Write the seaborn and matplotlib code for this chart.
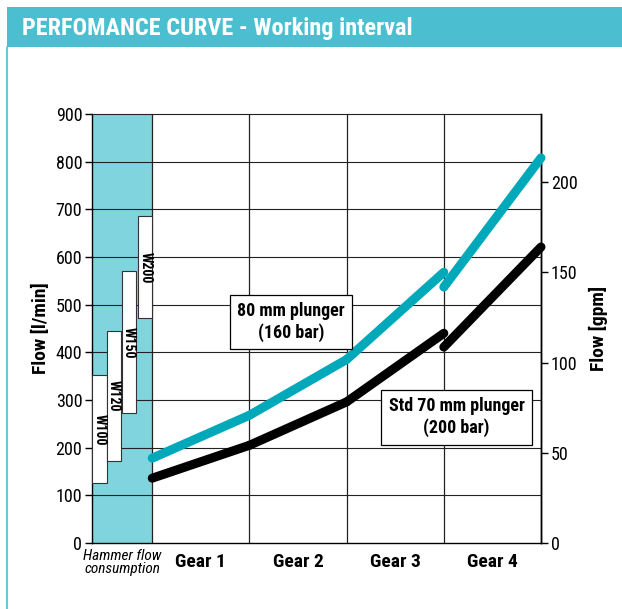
import seaborn as sns
import matplotlib.pyplot as plt
import pandas as pd
from matplotlib.patches import Rectangle
from matplotlib.lines import Line2D

# ---- data ----
gear_labels = ["Gear 1", "Gear 2", "Gear 3", "Gear 4"]
gear_edges = [0, 1, 2, 3, 4]

# flow [l/min] at start / end of each gear
plunger80_start = [178, 268, 385, 537]
plunger80_end = [268, 385, 568, 808]
std70_start = [136, 205, 296, 411]
std70_end = [205, 296, 440, 621]

hammer_names = ["W100", "W120", "W150", "W200"]
hammer_low = [125, 173, 272, 472]
hammer_high = [352, 445, 570, 685]

LPM_PER_GPM = 3.785
CYAN = "#00a9b9"
HAMMER_BG = "#7fd4de"
BAND = "#4bbfd0"
FONT = ["Roboto Condensed", "DejaVu Sans"]

rows = []
for name, starts, ends in [("80 mm plunger (160 bar)", plunger80_start, plunger80_end),
                           ("Std 70 mm plunger (200 bar)", std70_start, std70_end)]:
    for g in range(4):
        rows.append(dict(series=name, seg=f"{name}-{g}", x=gear_edges[g], flow=starts[g]))
        rows.append(dict(series=name, seg=f"{name}-{g}", x=gear_edges[g + 1], flow=ends[g]))
df = pd.DataFrame(rows)

sns.set_style("white")
plt.rcParams['font.family'] = FONT
plt.rcParams['text.color'] = "black"
plt.rcParams['axes.labelcolor'] = "black"
plt.rcParams['xtick.color'] = "black"
plt.rcParams['ytick.color'] = "black"

fig = plt.figure(figsize=(6.22, 6.09), dpi=100)
ax = fig.add_axes([92 / 622, 1 - 543 / 609, 449 / 622, 429 / 609])

# header band and left border
fig.patches.append(Rectangle((7 / 622, 1 - 47 / 609), 1, 40 / 609, transform=fig.transFigure,
                             facecolor=BAND, edgecolor="none", zorder=0))
fig.lines.append(Line2D([7.5 / 622, 7.5 / 622], [0, 1 - 47 / 609], transform=fig.transFigure,
                        color=BAND, lw=1.2))
fig.text(22 / 622, 1 - 28 / 609, "PERFOMANCE CURVE - Working interval", color="white",
         fontsize=17.5, fontweight="bold", va="center", ha="left")

xmin = -0.62
ax.set_xlim(xmin, 4)
ax.set_ylim(0, 900)

# hammer consumption region
ax.axvspan(xmin, 0, color=HAMMER_BG, zorder=0, lw=0)
bar_left = [-0.615, -0.465, -0.31, -0.145]
bar_w = 0.145
for i, nm in enumerate(hammer_names):
    ax.bar(bar_left[i], hammer_high[i] - hammer_low[i], bottom=hammer_low[i], width=bar_w,
           align="edge", color="white", edgecolor="#333333", lw=0.8, zorder=3)
    ax.text(bar_left[i] + bar_w / 2, (hammer_low[i] + hammer_high[i]) / 2, nm, rotation=-90,
            ha="center", va="center", fontsize=10, fontweight="bold", zorder=4)

# grid
for yv in range(100, 901, 100):
    ax.axhline(yv, color="#222222", lw=0.8, zorder=1)
for xv in gear_edges:
    ax.axvline(xv, color="#222222", lw=0.9, zorder=1)

sns.lineplot(data=df, x="x", y="flow", hue="series", units="seg", estimator=None,
             palette={"80 mm plunger (160 bar)": CYAN, "Std 70 mm plunger (200 bar)": "black"},
             lw=6.5, legend=False, ax=ax, zorder=5, solid_capstyle="round")
for ln in ax.get_lines():
    ln.set_clip_on(False)

ax.text(1.43, 464, "80 mm plunger\n(160 bar)", ha="center", va="center", fontsize=13,
        fontweight="bold", zorder=6, linespacing=1.25,
        bbox=dict(boxstyle="square,pad=0.4", fc="white", ec="black", lw=0.9))
ax.text(3.13, 264, "Std 70 mm plunger\n(200 bar)", ha="center", va="center", fontsize=13,
        fontweight="bold", zorder=6, linespacing=1.25,
        bbox=dict(boxstyle="square,pad=0.4", fc="white", ec="black", lw=0.9))

# axes styling
for side in ["left", "bottom", "right"]:
    ax.spines[side].set_visible(True)
    ax.spines[side].set_color("black")
    ax.spines[side].set_linewidth(1.0)
ax.spines["top"].set_visible(False)
ax.set_yticks(range(0, 901, 100))
ax.tick_params(axis="y", direction="out", length=5, width=1, labelsize=13, left=True, pad=2)
ax.set_xticks([0.5, 1.5, 2.5, 3.5])
ax.set_xticklabels(gear_labels, fontsize=14, fontweight="bold")
ax.tick_params(axis="x", length=0, pad=7)
ax.set_xlabel("")
ax.set_ylabel("Flow [l/min]", fontsize=14, fontweight="bold", labelpad=4)
ax.text(xmin / 2, -12, "Hammer flow\nconsumption", ha="center", va="top", fontsize=11,
        style="italic", linespacing=0.95)

sec = ax.secondary_yaxis("right", functions=(lambda v: v / LPM_PER_GPM, lambda v: v * LPM_PER_GPM))
sec.set_yticks([0, 50, 100, 150, 200])
sec.tick_params(direction="out", length=5, width=1, labelsize=13, pad=2)
sec.spines["right"].set_linewidth(1.0)
sec.set_ylabel("Flow [gpm]", fontsize=14, fontweight="bold", labelpad=8)

fig.savefig("out.png", dpi=100)
